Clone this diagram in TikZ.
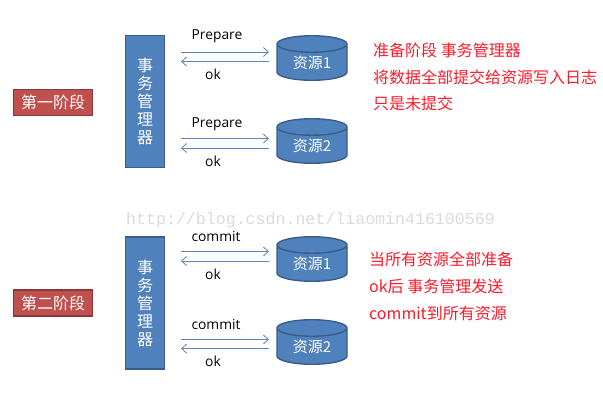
\documentclass[tikz,border=0pt]{standalone}
\usepackage{fontspec}
\setmainfont{Open Sans}
\newfontfamily\cjk{Noto Sans CJK SC}
\newfontfamily\wmfont{Liberation Mono}
\usetikzlibrary{shapes.geometric,arrows.meta}
\definecolor{bluefill}{HTML}{4F81BD}
\definecolor{blueedge}{HTML}{385D8A}
\definecolor{redfill}{HTML}{C0504D}
\definecolor{rededge}{HTML}{8C3836}
\definecolor{arrowc}{HTML}{5F86B3}
\definecolor{redtext}{HTML}{FF1A2A}
\tikzset{
  manager/.style={draw=blueedge,line width=1.4pt,fill=bluefill,text=white,minimum width=39pt,minimum height=132pt,inner sep=0pt,
    font=\fontsize{16}{18}\selectfont\cjk,align=center},
  resource/.style={cylinder,shape border rotate=90,shape aspect=0.43,draw=blueedge,line width=1.4pt,fill=bluefill,text=white,
    minimum width=70pt,minimum height=44.5pt,inner sep=0pt,anchor=shape center,font=\fontsize{15}{15}\selectfont\cjk},
  phase/.style={draw=rededge,line width=1.2pt,fill=redfill,text=white,minimum width=79pt,minimum height=26pt,inner sep=0pt,
    font=\fontsize{16}{16}\selectfont\cjk},
  flow/.style={draw=arrowc,line width=0.8pt,-{Straight Barb[length=5pt,width=9pt]}},
  msg/.style={text=black,inner sep=0pt,font=\fontsize{13.8}{15}\selectfont},
  note/.style={text=redtext,inner sep=0pt,anchor=west,font=\fontsize{16}{18}\selectfont\cjk},
  wmark/.style={text=black!14,inner sep=0pt,font=\fontsize{16.6}{18}\selectfont\wmfont}
}
\begin{document}
\begin{tikzpicture}[x=1pt,y=-1pt]
\useasboundingbox[fill=white] (0,0) rectangle (603,418);
\node[wmark] (wm) at (310.5,220) {http://blog.csdn.net/liaomin416100569};

% phase one
\node[phase] (p1) at (53,102.5) {第一阶段};
\node[manager] (m1) at (145,101.5) {事\\务\\管\\理\\器};
\node[resource] (r1) at (312,58) {资源1};
\node[resource] (r2) at (312,141) {资源2};
\coordinate (a1) at (181,52);   \coordinate (b1) at (269,52);
\coordinate (a2) at (181,61.5); \coordinate (b2) at (269,61.5);
\coordinate (a3) at (181,138.5);\coordinate (b3) at (269,138.5);
\coordinate (a4) at (181,148);  \coordinate (b4) at (269,148);
\draw[flow] (a1) -- (b1);
\draw[flow] (b2) -- (a2);
\draw[flow] (a3) -- (b3);
\draw[flow] (b4) -- (a4);
\node[msg] (t1) at (217,36.5) {Prepare};
\node[msg] (t2) at (213,74.5) {ok};
\node[msg] (t3) at (217,124.5) {Prepare};
\node[msg] (t4) at (213,161.5) {ok};
\node[note] (n1) at (373,50.5) {准备阶段 事务管理器};
\node[note] (n2) at (373,77) {将数据全部提交给资源写入日志};
\node[note] (n3) at (373,103.5) {只是未提交};

% phase two
\node[phase] (p2) at (53,303) {第二阶段};
\node[manager] (m2) at (145,303) {事\\务\\管\\理\\器};
\node[resource] (r3) at (312,259) {资源1};
\node[resource] (r4) at (312,342) {资源2};
\coordinate (a5) at (181,251.5);\coordinate (b5) at (269,251.5);
\coordinate (a6) at (181,261);  \coordinate (b6) at (269,261);
\coordinate (a7) at (181,339.5);\coordinate (b7) at (269,339.5);
\coordinate (a8) at (181,348.5);\coordinate (b8) at (269,348.5);
\draw[flow] (a5) -- (b5);
\draw[flow] (b6) -- (a6);
\draw[flow] (a7) -- (b7);
\draw[flow] (b8) -- (a8);
\node[msg] (t5) at (216,236) {commit};
\node[msg] (t6) at (213,274.5) {ok};
\node[msg] (t7) at (216,324) {commit};
\node[msg] (t8) at (213,361.5) {ok};
\node[note] (n4) at (369,259.5) {当所有资源全部准备};
\node[note] (n5) at (369,286.5) {ok后 事务管理发送};
\node[note] (n6) at (369,313) {commit到所有资源};
\end{tikzpicture}
\end{document}
